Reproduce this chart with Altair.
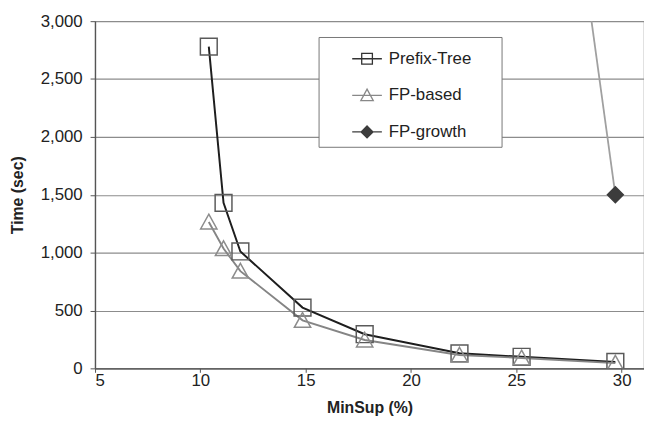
import altair as alt
import pandas as pd

series_names = ["Prefix-Tree", "FP-based", "FP-growth"]

minsup_pt = [10.4, 11.1, 11.9, 14.85, 17.8, 22.3, 25.25, 29.7]
time_pt = [2780, 1430, 1010, 525, 295, 130, 100, 55]

minsup_fb = [10.4, 11.1, 11.9, 14.85, 17.8, 22.3, 25.25, 29.7]
time_fb = [1265, 1035, 840, 415, 245, 115, 90, 45]

minsup_fg = [25.25, 29.7]
time_fg = [7400, 1500]

x_ticks = [5, 10, 15, 20, 25, 30]
y_ticks = [0, 500, 1000, 1500, 2000, 2500, 3000]

rows = []
for name, xs, ys in [(series_names[0], minsup_pt, time_pt),
                     (series_names[1], minsup_fb, time_fb),
                     (series_names[2], minsup_fg, time_fg)]:
    for i, (a, b) in enumerate(zip(xs, ys)):
        rows.append({"series": name, "minsup": a, "time": b, "order": i})
df = pd.DataFrame(rows)

FONT = "Liberation Sans"

x_enc = alt.X("minsup:Q",
              scale=alt.Scale(domain=[5, 31.06], nice=False, zero=False),
              axis=alt.Axis(values=x_ticks, grid=False, title="MinSup (%)",
                            tickSize=4, labelPadding=0,
                            titleY=40, titleBaseline="middle"))
y_enc = alt.Y("time:Q",
              scale=alt.Scale(domain=[0, 3000], nice=False),
              axis=alt.Axis(values=y_ticks, format=",.0f", grid=True, title="Time (sec)",
                            tickSize=5, labelPadding=8,
                            titleX=-78, titleY=175.5, titleBaseline="middle",
                            titleAlign="center"))

lines = alt.Chart(df).mark_line(clip=True).encode(
    x=x_enc, y=y_enc, order="order:Q",
    color=alt.Color("series:N", scale=alt.Scale(domain=series_names,
                    range=["#1e1e1e", "#858585", "#a0a0a0"]), legend=None),
    strokeWidth=alt.StrokeWidth("series:N", scale=alt.Scale(domain=series_names,
                    range=[2.0, 1.8, 1.1]), legend=None),
)

pt_shapes = ["M-1,-1H1V1H-1Z", "M0,-0.95L1,0.85H-1Z", "M0,-1L1,0L0,1L-1,0Z"]
points = alt.Chart(df).mark_point(clip=True, filled=False, strokeWidth=1.5, opacity=1).encode(
    x=x_enc, y=y_enc,
    shape=alt.Shape("series:N", scale=alt.Scale(domain=series_names, range=pt_shapes), legend=None),
    color=alt.Color("series:N", scale=alt.Scale(domain=series_names,
                    range=["#5a5a5a", "#8c8c8c", "#3c3c3c"]), legend=None),
    fill=alt.Fill("series:N", scale=alt.Scale(domain=series_names,
                    range=["transparent", "transparent", "#3c3c3c"]), legend=None),
    size=alt.Size("series:N", scale=alt.Scale(domain=series_names, range=[289, 256, 230]), legend=None),
)

lg_shapes = ["M-1,0H1M-0.36,-0.36H0.36V0.36H-0.36Z",
             "M-1,0H1M0,-0.42L0.42,0.36H-0.42Z",
             "M-1,0H1M0,-0.4L0.4,0L0,0.4L-0.4,0Z"]
pad = "\u2800" * 2
leg = alt.Legend(title=None, orient="none", legendX=226, legendY=16,
                 padding=6, symbolOffset=27, labelOffset=6, rowPadding=13,
                 symbolSize=900, symbolStrokeWidth=1.3, symbolOpacity=1,
                 labelFont=FONT, labelFontSize=17, labelColor="#222",
                 strokeColor="#777", fillColor="white",
                 labelExpr="datum.label + '" + pad + "'")
legend_layer = alt.Chart(df).transform_filter("false").mark_point(filled=False, size=900, opacity=1).encode(
    x=x_enc, y=y_enc,
    shape=alt.Shape("series:N", scale=alt.Scale(domain=series_names, range=lg_shapes), legend=leg),
    color=alt.Color("series:N", scale=alt.Scale(domain=series_names,
                    range=["#333333", "#888888", "#3c3c3c"]), legend=leg),
    fill=alt.Fill("series:N", scale=alt.Scale(domain=series_names,
                    range=["transparent", "transparent", "#3c3c3c"]), legend=leg),
)

chart = alt.layer(lines, points, legend_layer).resolve_scale(
    color="independent", shape="independent", fill="independent",
    strokeWidth="independent", size="independent"
).properties(
    width=555, height=351,
    padding={"left": 88, "top": 11, "right": 0, "bottom": 60},
    autosize=alt.AutoSizeParams(type="none"),
    background="white",
).configure_view(stroke="#999", strokeWidth=1.2).configure_axis(
    labelFont=FONT, labelFontSize=17, labelColor="#222",
    titleFont=FONT, titleFontSize=16, titleFontWeight="bold", titleColor="#222",
    domainColor="#555", tickColor="#555", domainWidth=1.3,
    gridColor="#8c8c8c", gridWidth=1.2,
)

chart.save("out.html", embed_options={"renderer": "svg", "actions": False})
